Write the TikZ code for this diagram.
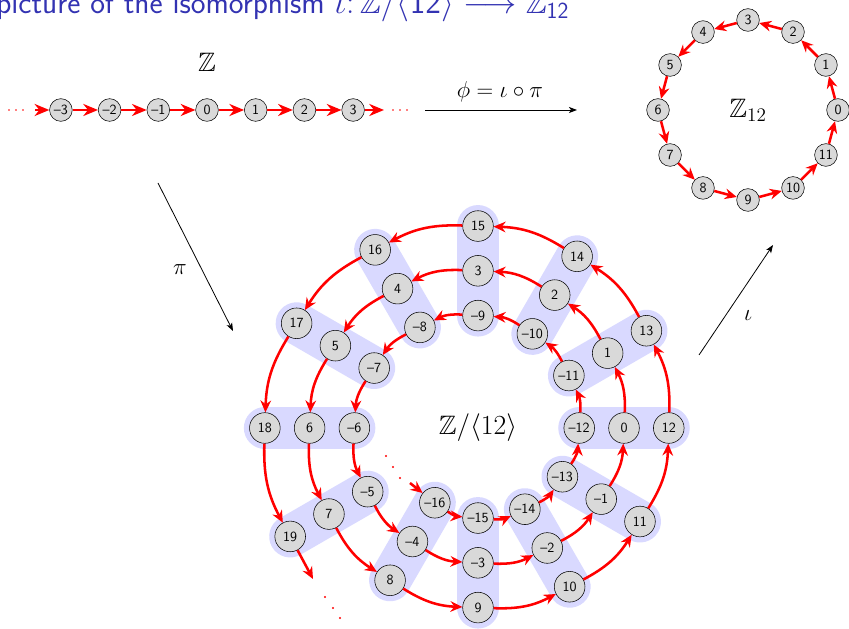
\documentclass[tikz,border=0pt]{standalone}
\usepackage{amssymb}
\usetikzlibrary{arrows.meta}
\definecolor{titleblue}{rgb}{0.2,0.2,0.7}
% etiqueta con raya para los negativos
\newcommand{\numlabel}[1]{\ifnum#1<0 \textendash\number\numexpr-#1\relax\else#1\fi}

\begin{document}
\begin{tikzpicture}[x=0.75pt,y=0.75pt,
  >={Stealth[length=9pt,width=8pt,inset=3pt]},
  elem/.style={circle,fill=gray!30,draw=black,thin,inner sep=0pt,minimum size=17pt,
    font=\sffamily\fontsize{10.5}{12}\selectfont},
  bigelem/.style={elem,minimum size=23pt},
  redarr/.style={->,red,line width=1.9pt},
  chainarr/.style={-{Stealth[length=11pt,width=9pt,inset=3.5pt]},red,line width=2pt},
  band/.style={line width=31.5pt,line cap=round,blue!15},
  maparr/.style={-{Stealth[length=6pt,width=4.5pt,inset=1.5pt]},line width=0.6pt},
  biglabel/.style={font=\fontsize{20}{24}\selectfont},
  maplabel/.style={font=\fontsize{16}{18}\selectfont}]

  \useasboundingbox (0,0) rectangle (849,628);

  % titulo (cortado por arriba)
  \node[anchor=base west,text=titleblue,inner sep=0pt,
    font=\sffamily\fontsize{23.5}{27}\selectfont] (title) at (-4,614)
    {picture of the isomorphism $\iota\colon\mathbb{Z}/\langle\mathsf{12}\rangle\longrightarrow\mathbb{Z}_{\mathsf{12}}$};

  % la recta Z
  \node[biglabel] (Zlab) at (207,566) {$\mathbb{Z}$};
  \foreach \k in {-3,...,3}
    \node[elem] (c\k) at ({207+48.7*\k},518) {\numlabel{\k}};
  \coordinate (cin) at (35,518);
  \coordinate (cout) at (384,518);
  \draw[chainarr] (cin) -- (c-3);
  \foreach \k [evaluate=\k as \m using int(\k+1)] in {-3,...,2}
    \draw[chainarr] (c\k) -- (c\m);
  \draw[chainarr] (c3) -- (cout);
  \foreach \x in {9,16,23,393,400,407}
    \fill[red] (\x,518) circle (0.9);

  % el ciclo Z_12
  \begin{scope}[shift={(748,518)}]
    \node[biglabel] (Z12lab) at (0,0) {$\mathbb{Z}_{12}$};
    \foreach \k in {0,...,11}
      \node[elem] (z\k) at ({\k*30}:90) {\k};
    \foreach \k [evaluate=\k as \m using {int(mod(\k+1,12))}] in {0,...,11}
      \draw[redarr] (z\k) -- (z\m);
  \end{scope}

  % la espiral Z/<12>
  \begin{scope}[shift={(478,200)}]
    \foreach \n in {-16,...,19}
      \coordinate (p\n) at ({\n*30}:{146+3.73*\n});
    % bandas de cada clase
    \foreach \n [evaluate=\n as \m using int(\n+24)] in {-16,...,-5}
      \draw[band] (p\n) -- (p\m);
    \foreach \n in {-16,...,19}
      \node[bigelem] (s\n) at (p\n) {\numlabel{\n}};
    \foreach \n [evaluate=\n as \m using int(\n+1)] in {-16,...,18}
      \draw[redarr] (s\n) to[bend right=15] (s\m);
    \node[biglabel] (quot) at (0,0) {$\mathbb{Z}/\langle 12\rangle$};
  \end{scope}
  % entrada y salida de la espiral
  \coordinate (spin) at (410,145);
  \coordinate (spout) at (313,49);
  \draw[redarr] (spin) -- (s-16);
  \draw[redarr] (s19) -- (spout);
  \foreach \p in {(386,172),(393,161),(400,150),(325,31),(333,20),(340,10)}
    \fill[red] \p circle (1.1);

  % las flechas phi, pi, iota
  \coordinate (phiA) at (425,518);
  \coordinate (phiB) at (577,518);
  \draw[maparr] (phiA) -- (phiB);
  \node[maplabel] (philab) at (500,536) {$\phi=\iota\circ\pi$};
  \coordinate (piA) at (158,445);
  \coordinate (piB) at (233,297);
  \draw[maparr] (piA) -- (piB);
  \node[maplabel] (pilab) at (180,358) {$\pi$};
  \coordinate (iotaA) at (699,273);
  \coordinate (iotaB) at (773,383);
  \draw[maparr] (iotaA) -- (iotaB);
  \node[maplabel] (iotalab) at (748,312) {$\iota$};
\end{tikzpicture}
\end{document}
